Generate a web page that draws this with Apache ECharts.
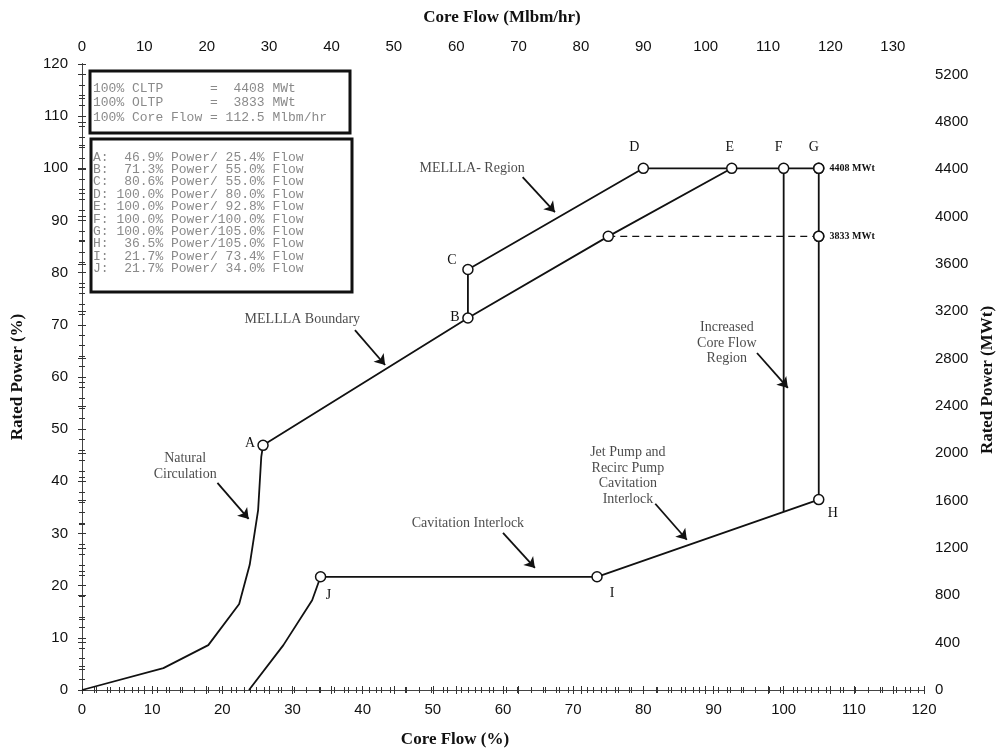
<!DOCTYPE html>
<html><head><meta charset="utf-8">
<script src="https://cdn.jsdelivr.net/npm/echarts@6/dist/echarts.min.js"></script>
<style>html,body{margin:0;padding:0;background:#fff}#c{width:1004px;height:753px}</style>
</head><body><div id="c"></div>
<script>
// ---------------- data ----------------
const pointNames = ['A','B','C','D','E','F','G','H','I','J'];
const pointFlow  = [25.8, 55.0, 55.0, 80.0, 92.6, 100.0, 105.0, 105.0, 73.4, 34.0];
const pointPower = [46.9, 71.3, 80.6, 100.0, 100.0, 100.0, 100.0, 36.5, 21.7, 21.7];

const natCircFlow  = [0, 11.6, 18.0, 22.4, 23.9, 25.1, 25.55, 25.8];
const natCircPower = [0, 4.2, 8.6, 16.5, 24.0, 34.5, 44.7, 46.9];

const cavFlow  = [23.8, 28.7, 32.8, 34.0, 73.4, 105.0];
const cavPower = [0, 8.6, 17.2, 21.7, 21.7, 36.5];

const boundaryFlow  = [25.8, 55.0, 75.0, 92.6];
const boundaryPower = [46.9, 71.3, 86.96, 100.0];

const upperFlow  = [55.0, 55.0, 80.0, 92.6, 100.0, 105.0, 105.0];
const upperPower = [71.3, 80.6, 100.0, 100.0, 100.0, 100.0, 36.5];

const icfFlow  = [100.0, 100.0];
const icfPower = [100.0, 34.1];

const oltpFlow  = [75.0, 105.0];
const oltpPower = [86.96, 86.96];

const mwtFlow   = [105.0, 105.0];
const mwtPower  = [100.0, 86.96];
const mwtLabels = ['4408 MWt', '3833 MWt'];

const noteTexts = ['MELLLA- Region', 'MELLLA Boundary', 'Natural\nCirculation', 'Cavitation Interlock',
                   'Jet Pump and\nRecirc Pump\nCavitation\nInterlock', 'Increased\nCore Flow\nRegion'];
const noteFlow  = [55.6, 31.4, 14.7, 55.0, 77.8, 91.9];
const notePower = [100.0, 71.1, 42.9, 32.0, 41.05, 66.5];
const arrowFrom = [[62.8, 98.3], [38.9, 69.0], [19.3, 39.7], [60.0, 30.1], [81.7, 35.7], [96.2, 64.6]];
const arrowTo   = [[67.4, 91.6], [43.2, 62.3], [23.75, 32.8], [64.55, 23.4], [86.2, 28.8], [100.6, 57.9]];

const infoLines = ['100% CLTP      =  4408 MWt', '100% OLTP      =  3833 MWt', '100% Core Flow = 112.5 Mlbm/hr'];
const pointLines = [
  'A:  46.9% Power/ 25.4% Flow',
  'B:  71.3% Power/ 55.0% Flow',
  'C:  80.6% Power/ 55.0% Flow',
  'D: 100.0% Power/ 80.0% Flow',
  'E: 100.0% Power/ 92.8% Flow',
  'F: 100.0% Power/100.0% Flow',
  'G: 100.0% Power/105.0% Flow',
  'H:  36.5% Power/105.0% Flow',
  'I:  21.7% Power/ 73.4% Flow',
  'J:  21.7% Power/ 34.0% Flow'
];

const flowMax = 120, powerMax = 120, mwtPer100 = 4408, mlbmPer100 = 112.5;

// ---------------- styling ----------------
const zip = (xs, ys) => xs.map((x, i) => [x, ys[i]]);
const INK = '#111';
const serif = '"Liberation Serif", "DejaVu Serif", serif';
const sans = '"Liberation Sans", Arial, sans-serif';
const mono = '"Liberation Mono", "DejaVu Sans Mono", monospace';
const letterOffsets = {A:[-13,-2],B:[-13,-1],C:[-16,-9],D:[-9,-21],E:[-2,-21],F:[-5,-21],G:[-5,-21],H:[14,14],I:[15,17],J:[8,19]};
const plain = v => String(Math.round(v));

const lineSeries = (data) => ({type:'line', data, symbol:'none', lineStyle:{color:INK, width:1.8}, z:3, animation:false});
const circle = {symbol:'circle', symbolSize:10, itemStyle:{color:'#fff', borderColor:INK, borderWidth:1.5, opacity:1}};

const tickAxis = (extra) => Object.assign({
  type:'value', splitLine:{show:false},
  axisLine:{show:true, lineStyle:{color:'#444', width:1}},
  axisTick:{show:true, length:4, lineStyle:{color:'#333'}},
  minorTick:{show:true, splitNumber:5, length:3, lineStyle:{color:'#333'}},
  axisLabel:{show:true, fontFamily:sans, fontSize:15, color:'#111', formatter:plain}
}, extra);
const lbl = (extra) => Object.assign({show:true, fontFamily:sans, fontSize:15, color:'#111', formatter:plain}, extra);
const insideTicks = (split) => ({
  axisLabel:{show:false},
  axisTick:{show:true, inside:true, length:4, lineStyle:{color:'#333'}},
  minorTick:{show:true, splitNumber:split, length:3, lineStyle:{color:'#333'}}
});

const chart = echarts.init(document.getElementById('c'), null, {renderer:'canvas'});
chart.setOption({
  animation:false,
  backgroundColor:'#fff',
  grid:{left:82, right:80, top:64, bottom:63},
  xAxis:[
    tickAxis({position:'bottom', min:0, max:flowMax, interval:10, axisLabel:lbl({margin:12})}),
    tickAxis({position:'top', min:0, max:flowMax*mlbmPer100/100, interval:10, axisLabel:lbl({margin:10, showMaxLabel:false})}),
    tickAxis(Object.assign({position:'bottom', min:0, max:flowMax, interval:10}, insideTicks(5))),
    tickAxis(Object.assign({position:'top', min:0, max:flowMax*mlbmPer100/100, interval:10}, insideTicks(5)))
  ],
  yAxis:[
    tickAxis({position:'left', min:0, max:powerMax, interval:10, axisLabel:lbl({margin:14})}),
    tickAxis({position:'right', min:0, max:powerMax*mwtPer100/100, interval:400,
              minorTick:{show:true, splitNumber:2, length:3, lineStyle:{color:'#333'}},
              axisLabel:lbl({margin:11, showMaxLabel:false})}),
    tickAxis(Object.assign({position:'left', min:0, max:powerMax, interval:10}, insideTicks(5))),
    tickAxis(Object.assign({position:'right', min:0, max:powerMax*mwtPer100/100, interval:400}, insideTicks(2)))
  ],
  series:[
    lineSeries(zip(natCircFlow, natCircPower)),
    lineSeries(zip(cavFlow, cavPower)),
    lineSeries(zip(boundaryFlow, boundaryPower)),
    lineSeries(zip(upperFlow, upperPower)),
    lineSeries(zip(icfFlow, icfPower)),
    {type:'line', data:zip(oltpFlow, oltpPower), symbol:'none', lineStyle:{color:INK, width:1.4, type:[7,5]}, z:3},
    {type:'lines', coordinateSystem:'cartesian2d', xAxisIndex:0, yAxisIndex:0, z:4,
     symbol:['none','arrow'], symbolSize:[1, 10],
     lineStyle:{color:INK, width:1.8, opacity:1},
     data: arrowFrom.map((f, i) => ({coords:[f, arrowTo[i]]}))},
    {type:'scatter', z:5, ...circle,
     data: pointNames.map((n, i) => ({name:n, value:[pointFlow[i], pointPower[i]],
       label:{show:true, position:'inside', offset:letterOffsets[n], formatter:'{b}', fontFamily:serif, fontSize:14, color:INK}}))},
    {type:'scatter', z:5, ...circle,
     data: zip(oltpFlow, oltpPower).map(v => ({value:v}))},
    {type:'scatter', z:5, ...circle,
     data: mwtLabels.map((t, i) => ({name:t, value:[mwtFlow[i], mwtPower[i]]})),
     label:{show:true, position:'right', distance:5, formatter:'{b}', fontFamily:serif, fontWeight:'bold', fontSize:10, color:INK}},
    {type:'scatter', z:6, symbol:'circle', symbolSize:1, itemStyle:{color:'rgba(0,0,0,0)'},
     data: noteTexts.map((t, i) => ({name:t, value:[noteFlow[i], notePower[i]]})),
     label:{show:true, position:'inside', formatter:'{b}', fontFamily:serif, fontSize:14, lineHeight:15.5, color:'#1a1a1a', align:'center'}}
  ],
  graphic:[
    {type:'text', x:502, y:18, style:{text:'Core Flow (Mlbm/hr)', font:'bold 17px ' + serif, fill:INK, align:'center', verticalAlign:'middle'}},
    {type:'text', x:455, y:740, style:{text:'Core Flow (%)', font:'bold 17px ' + serif, fill:INK, align:'center', verticalAlign:'middle'}},
    {type:'text', x:18, y:377, rotation:Math.PI/2, style:{text:'Rated Power (%)', font:'bold 17px ' + serif, fill:INK, align:'center', verticalAlign:'middle'}},
    {type:'text', x:988, y:380, rotation:Math.PI/2, style:{text:'Rated Power (MWt)', font:'bold 17px ' + serif, fill:INK, align:'center', verticalAlign:'middle'}},
    {type:'rect', shape:{x:90, y:71, width:260, height:62}, style:{fill:'#fff', stroke:INK, lineWidth:3}, z:10},
    {type:'text', x:93, y:81, z:11, style:{text:infoLines.join('\n'), font:'13px ' + mono, fill:'#8a8a8a', lineHeight:14.5}},
    {type:'rect', shape:{x:91, y:139, width:261, height:153}, style:{fill:'#fff', stroke:INK, lineWidth:3}, z:10},
    {type:'text', x:93, y:151, z:11, style:{text:pointLines.join('\n'), font:'13px ' + mono, fill:'#8a8a8a', lineHeight:12.4}}
  ]
});
</script></body></html>
